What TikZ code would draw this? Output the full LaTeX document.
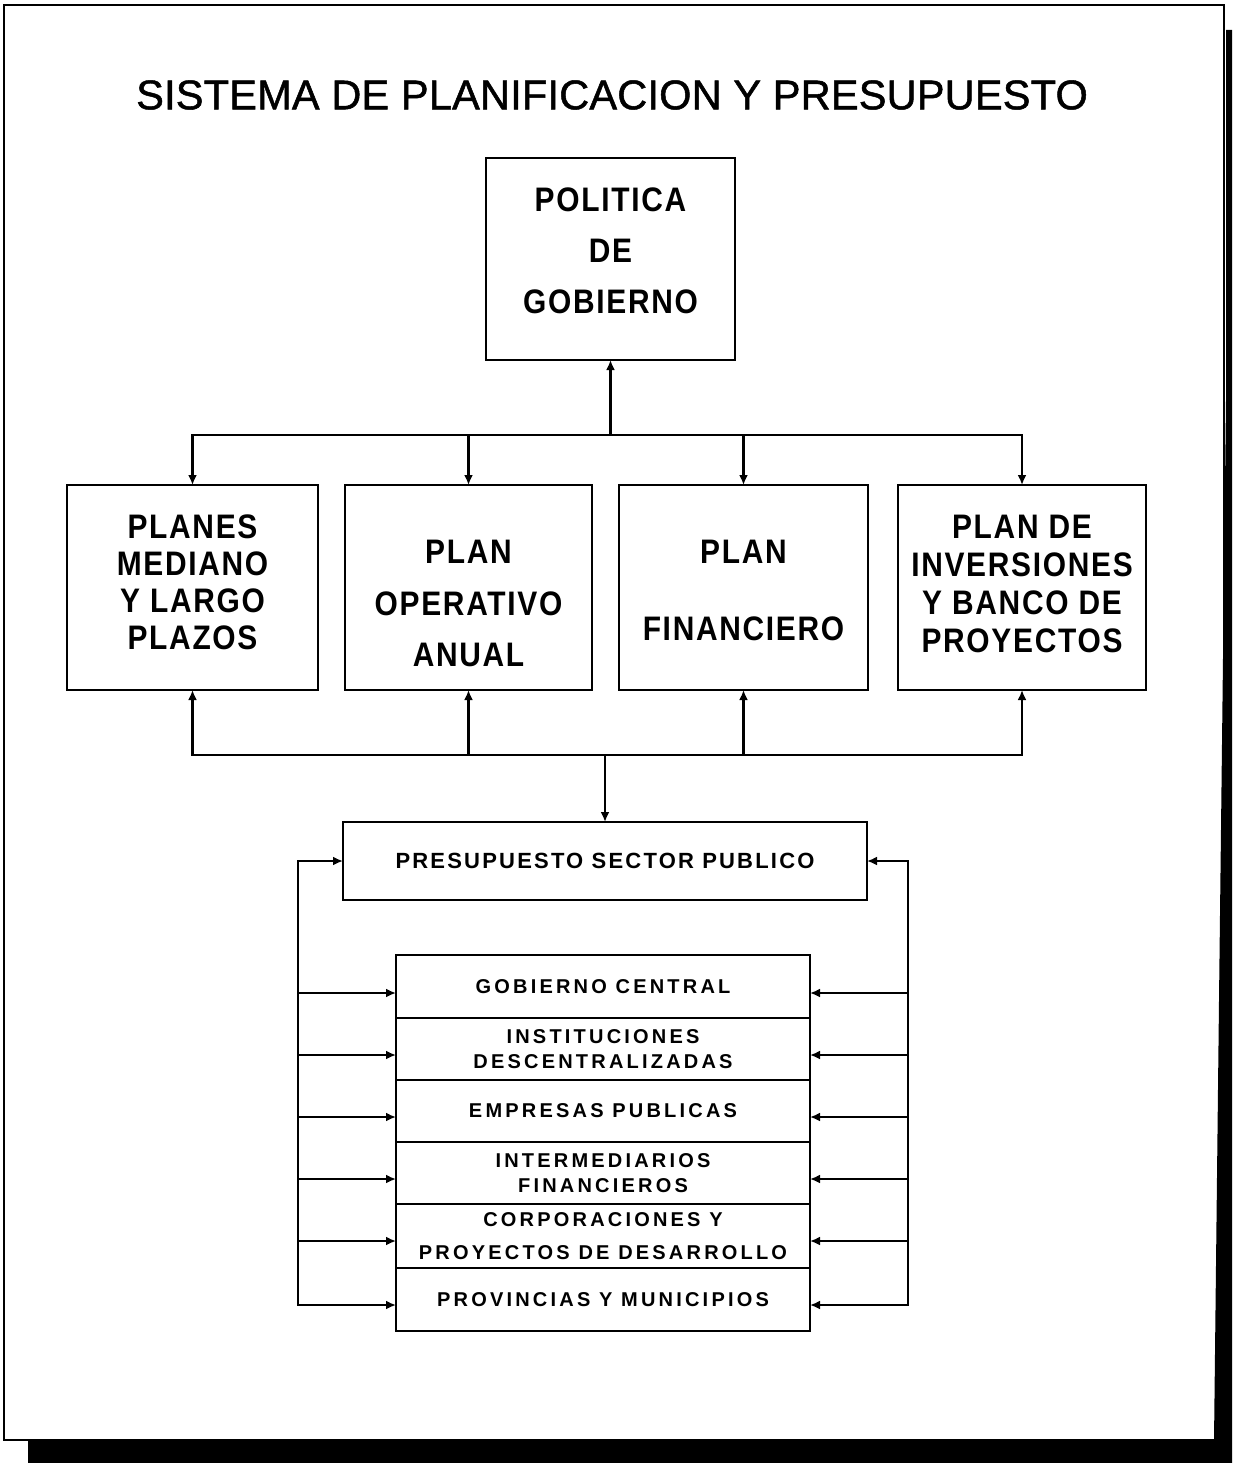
\documentclass[tikz,border=0pt]{standalone}
\usepackage{fontspec}
\usetikzlibrary{arrows.meta}
\setmainfont{Liberation Sans}
\newfontfamily\titlefont{Liberation Sans}[LetterSpace=0.5,FakeBold=1.2]
\newfontfamily\labelfont{Liberation Sans}[LetterSpace=5,FakeStretch=0.88]
\newfontfamily\presfont{Liberation Sans}[LetterSpace=10]
\newfontfamily\rowfont{Liberation Sans}[LetterSpace=16]

\tikzset{
  frame/.style={line width=2.2pt},
  boxnode/.style={draw, line width=2pt, inner sep=0pt, outer sep=0pt},
  bigtext/.style={align=center, inner sep=0pt,
    font=\labelfont\bfseries\fontsize{34}{#1}\selectfont},
  rowbox/.style={boxnode, minimum width=414pt, minimum height=#1, align=center,
    font=\rowfont\bfseries\fontsize{20}{25}\selectfont},
  conn/.style={line width=2.8pt, line cap=rect},
  arr/.style={line width=2.8pt, -{Latex[length=10pt,width=9pt]}},
}

\begin{document}
\begin{tikzpicture}[x=1pt,y=-1pt]
  \useasboundingbox (0,0) rectangle (1232,1463);
  \fill[white] (0,0) rectangle (1232,1463);

  % sheet border and its dark shadow
  \draw[frame] (4,5) rectangle (1224,1440);
  \fill[black] (1226,30) -- (1232,30) -- (1232,1463) -- (28,1463) -- (28,1441)
    -- (1214,1441) -- (1219,1000) -- (1226,400) -- cycle;

  % title
  \node (title) at (612,95) {\titlefont\fontsize{41.5}{44}\selectfont SISTEMA DE PLANIFICACION Y PRESUPUESTO};

  % government policy
  \node[boxnode, minimum width=249pt, minimum height=202pt] (pol) at (610.5,259) {};
  \node[bigtext=51] (polt) at (610.5,251) {POLITICA\\DE\\GOBIERNO};

  % the four plans
  \node[boxnode, minimum width=251pt, minimum height=205pt] (b1) at (192.5,587.5) {};
  \node[boxnode, minimum width=247pt, minimum height=205pt] (b2) at (468.5,587.5) {};
  \node[boxnode, minimum width=249pt, minimum height=205pt] (b3) at (743.5,587.5) {};
  \node[boxnode, minimum width=248pt, minimum height=205pt] (b4) at (1022,587.5) {};
  \node[bigtext=37] (t1) at (192.5,582.5) {PLANES\\MEDIANO\\Y LARGO\\PLAZOS};
  \node[bigtext=51.5] (t2) at (468.5,603.5) {PLAN\\OPERATIVO\\ANUAL};
  \node[bigtext=77] (t3) at (743.5,590.5) {PLAN\\FINANCIERO};
  \node[bigtext=38] (t4) at (1022,584) {PLAN DE\\INVERSIONES\\Y BANCO DE\\PROYECTOS};

  % public sector budget
  \node[boxnode, minimum width=524pt, minimum height=78pt,
        font=\presfont\bfseries\fontsize{22}{24}\selectfont] (pres) at (605,861)
        {PRESUPUESTO SECTOR PUBLICO};

  % budget components
  \node[rowbox=63pt] (r1) at (603,986.5) {GOBIERNO CENTRAL};
  \node[rowbox=62pt] (r2) at (603,1049) {INSTITUCIONES\\DESCENTRALIZADAS};
  \node[rowbox=62pt] (r3) at (603,1111) {EMPRESAS PUBLICAS};
  \node[rowbox=62pt] (r4) at (603,1173) {INTERMEDIARIOS\\FINANCIEROS};
  \node[rowbox=64pt, font=\rowfont\bfseries\fontsize{20}{33}\selectfont] (r5) at (603,1236)
        {CORPORACIONES Y\\PROYECTOS DE DESARROLLO};
  \node[rowbox=63pt] (r6) at (603,1299.5) {PROVINCIAS Y MUNICIPIOS};

  % policy <-> plans
  \coordinate (tb) at (610.5,435);
  \draw[conn] (b1.north |- tb) -- (b4.north |- tb);
  \draw[arr] (tb) -- (pol.south);
  \foreach \b in {b1,b2,b3,b4}
    \draw[arr] (\b.north |- tb) -- (\b.north);

  % plans <-> budget
  \coordinate (lb) at (605,755);
  \draw[conn] (b1.south |- lb) -- (b4.south |- lb);
  \foreach \b in {b1,b2,b3,b4}
    \draw[arr] (\b.south |- lb) -- (\b.south);
  \draw[arr] (lb) -- (pres.north);

  % feedback loops on both sides
  \coordinate (lt) at (298,861);
  \coordinate (lbot) at (298,1305);
  \coordinate (rt) at (908,861);
  \coordinate (rbot) at (908,1305);
  \draw[conn] (lt) -- (lbot);
  \draw[conn] (rt) -- (rbot);
  \draw[arr] (lt) -- (pres.west);
  \draw[arr] (rt) -- (pres.east);
  \foreach \r/\y [count=\i] in {r1/993,r2/1055,r3/1117,r4/1179,r5/1241,r6/1305} {
    \coordinate (lk\i) at (298,\y);
    \coordinate (rk\i) at (908,\y);
    \draw[arr] (lk\i) -- (lk\i -| \r.west);
    \draw[arr] (rk\i) -- (rk\i -| \r.east);
  }
\end{tikzpicture}
\end{document}
